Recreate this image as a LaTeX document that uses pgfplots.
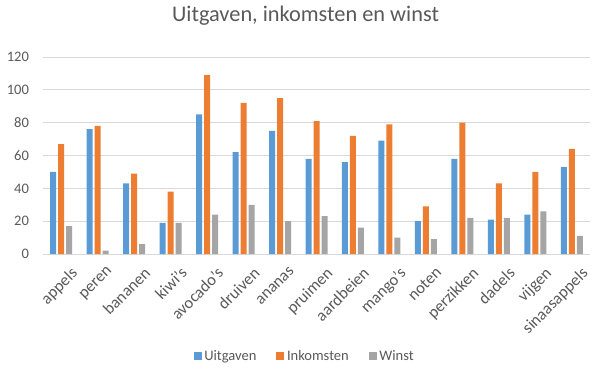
\documentclass[border=0pt]{standalone}
\usepackage{pgfplots}
\pgfplotsset{compat=1.18}
\usepackage{fontspec}
\setmainfont{Carlito}
\definecolor{cblue}{HTML}{5B9BD5}
\definecolor{corange}{HTML}{ED7D31}
\definecolor{cgray}{HTML}{A5A5A5}
\definecolor{gridc}{HTML}{D9D9D9}
\definecolor{txt}{HTML}{595959}
\begin{document}
\begin{tikzpicture}
\useasboundingbox (-32.25pt,-90.75pt) rectangle (420pt,190.5pt);
\begin{axis}[
  at={(0,0)}, anchor=south west,
  scale only axis, width=410.25pt, height=147.75pt,
  ybar=1.5pt, bar width=4.5pt,
  xmin=-0.5, xmax=14.5, ymin=0, ymax=120,
  xtick={0,...,14},
  xticklabels={appels,peren,bananen,kiwi's,avocado's,druiven,ananas,pruimen,aardbeien,mango's,noten,perzikken,dadels,vijgen,sinaasappels},
  ytick={0,20,...,120},
  ymajorgrids, grid style={gridc, line width=0.75pt},
  axis line style={draw=none},
  major tick length=0pt,
  tick label style={font=\fontsize{10.9}{13}\selectfont, text=txt},
  /pgf/number format/assume math mode=true,
  yticklabel style={xshift=-7pt},
  xticklabel style={rotate=45, anchor=north east, inner sep=0pt, yshift=-11pt, xshift=-1.5pt, font=\fontsize{12.4}{14}\selectfont},
  title={Uitgaven, inkomsten en winst},
  title style={at={(0.48,1)}, anchor=base, yshift=20.25pt, font=\fontsize{16.75}{19}\selectfont, text=txt},
  legend style={at={(0.479,0)}, yshift=-76.5pt, anchor=center, legend columns=-1, draw=none,
    font=\fontsize{10.9}{13}\selectfont, text=txt,
    /tikz/every even column/.append style={column sep=13pt}},
  legend image code/.code={\fill[#1] (0pt,-3pt) rectangle (6pt,3pt);},
]
\addplot[fill=cblue, draw=none] coordinates {(0,50) (1,76) (2,43) (3,19) (4,85) (5,62) (6,75) (7,58) (8,56) (9,69) (10,20) (11,58) (12,21) (13,24) (14,53)};
\addplot[fill=corange, draw=none] coordinates {(0,67) (1,78) (2,49) (3,38) (4,109) (5,92) (6,95) (7,81) (8,72) (9,79) (10,29) (11,80) (12,43) (13,50) (14,64)};
\addplot[fill=cgray, draw=none] coordinates {(0,17) (1,2) (2,6) (3,19) (4,24) (5,30) (6,20) (7,23) (8,16) (9,10) (10,9) (11,22) (12,22) (13,26) (14,11)};
\legend{Uitgaven,Inkomsten,Winst}
\end{axis}
\end{tikzpicture}
\end{document}
